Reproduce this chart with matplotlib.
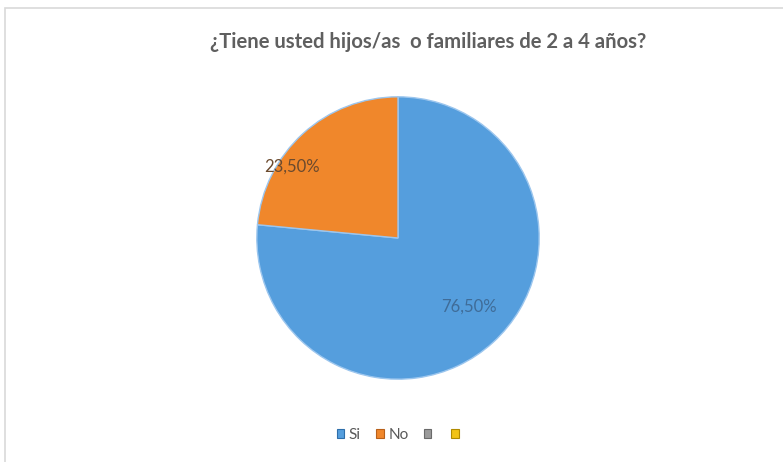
"""
Pie chart: ¿Tiene usted hijos/as o familiares de 2 a 4 años?
"""

import numpy as np
import matplotlib
matplotlib.use("Agg")
import matplotlib.pyplot as plt
import matplotlib.patches as patches

plt.rcParams["font.family"] = ["Lato", "DejaVu Sans"]

# data
categories = ["Si", "No", "", ""]
values = [76.5, 23.5, 0.0, 0.0]
value_labels = ["76,50%", "23,50%"]
colors = ["#559EDD", "#F0872B", "#9A9A9A", "#F2C314"]
edge_colors = ["#2E6EAA", "#B8601A", "#6A6A6A", "#B08A00"]

title = "¿Tiene usted hijos/as  o familiares de 2 a 4 años?"

fig = plt.figure(figsize=(7.83, 4.62), dpi=100)
W, H = 783, 462

# light chart border (top/left visible only)
fig.add_artist(patches.Rectangle(
    (5 / W, -0.1), 1.2, (H - 8) / H + 0.1, transform=fig.transFigure,
    facecolor="none", edgecolor="#D9D9D9", linewidth=1.2
))

# pie axes: center ~ (398, 238) px, radius ~ 144 px
cx, cy, r = 398, 238, 144
ax = fig.add_axes([(cx - r) / W, (H - cy - r) / H, 2 * r / W, 2 * r / H])

shown = [(v, c) for v, c in zip(values, colors) if v > 0]
wedges, _ = ax.pie(
    [v for v, _ in shown], colors=[c for _, c in shown],
    startangle=90, counterclock=False, radius=1.0,
    wedgeprops=dict(edgecolor="#9CC6EE", linewidth=1.0),
)
ax.set_xlim(-1.02, 1.02)
ax.set_ylim(-1.02, 1.02)
ax.set_aspect("equal")
ax.axis("off")

# data labels (Excel "best fit" places them off-centre)
label_pos = [(0.06, 0.70), (0.236, 0.905)]  # (angle shift in rad, radial distance)
label_colors = ["#3F6C98", "#6B4A2E"]
for w, txt, (shift, dist), lc in zip(wedges, value_labels, label_pos, label_colors):
    mid = np.deg2rad((w.theta1 + w.theta2) / 2) + shift
    ax.text(dist * np.cos(mid), dist * np.sin(mid), txt,
            ha="center", va="center", fontsize=12, color=lc)

fig.text(428 / W, 1 - 42 / H, title, ha="center", va="center",
         fontsize=14.6, fontweight="bold", color="#5F5F5F")

handles = [patches.Patch(facecolor=c, edgecolor=e, linewidth=0.8, label=lab)
           for c, e, lab in zip(colors, edge_colors, categories)]
fig.legend(handles=handles, loc="center", bbox_to_anchor=(400 / W, 1 - 435 / H),
           ncol=4, frameon=False, fontsize=11, handlelength=0.5, handleheight=0.5,
           handletextpad=0.3, columnspacing=1.0, labelcolor="#595959")

fig.savefig("out.png", dpi=100, facecolor="white")
